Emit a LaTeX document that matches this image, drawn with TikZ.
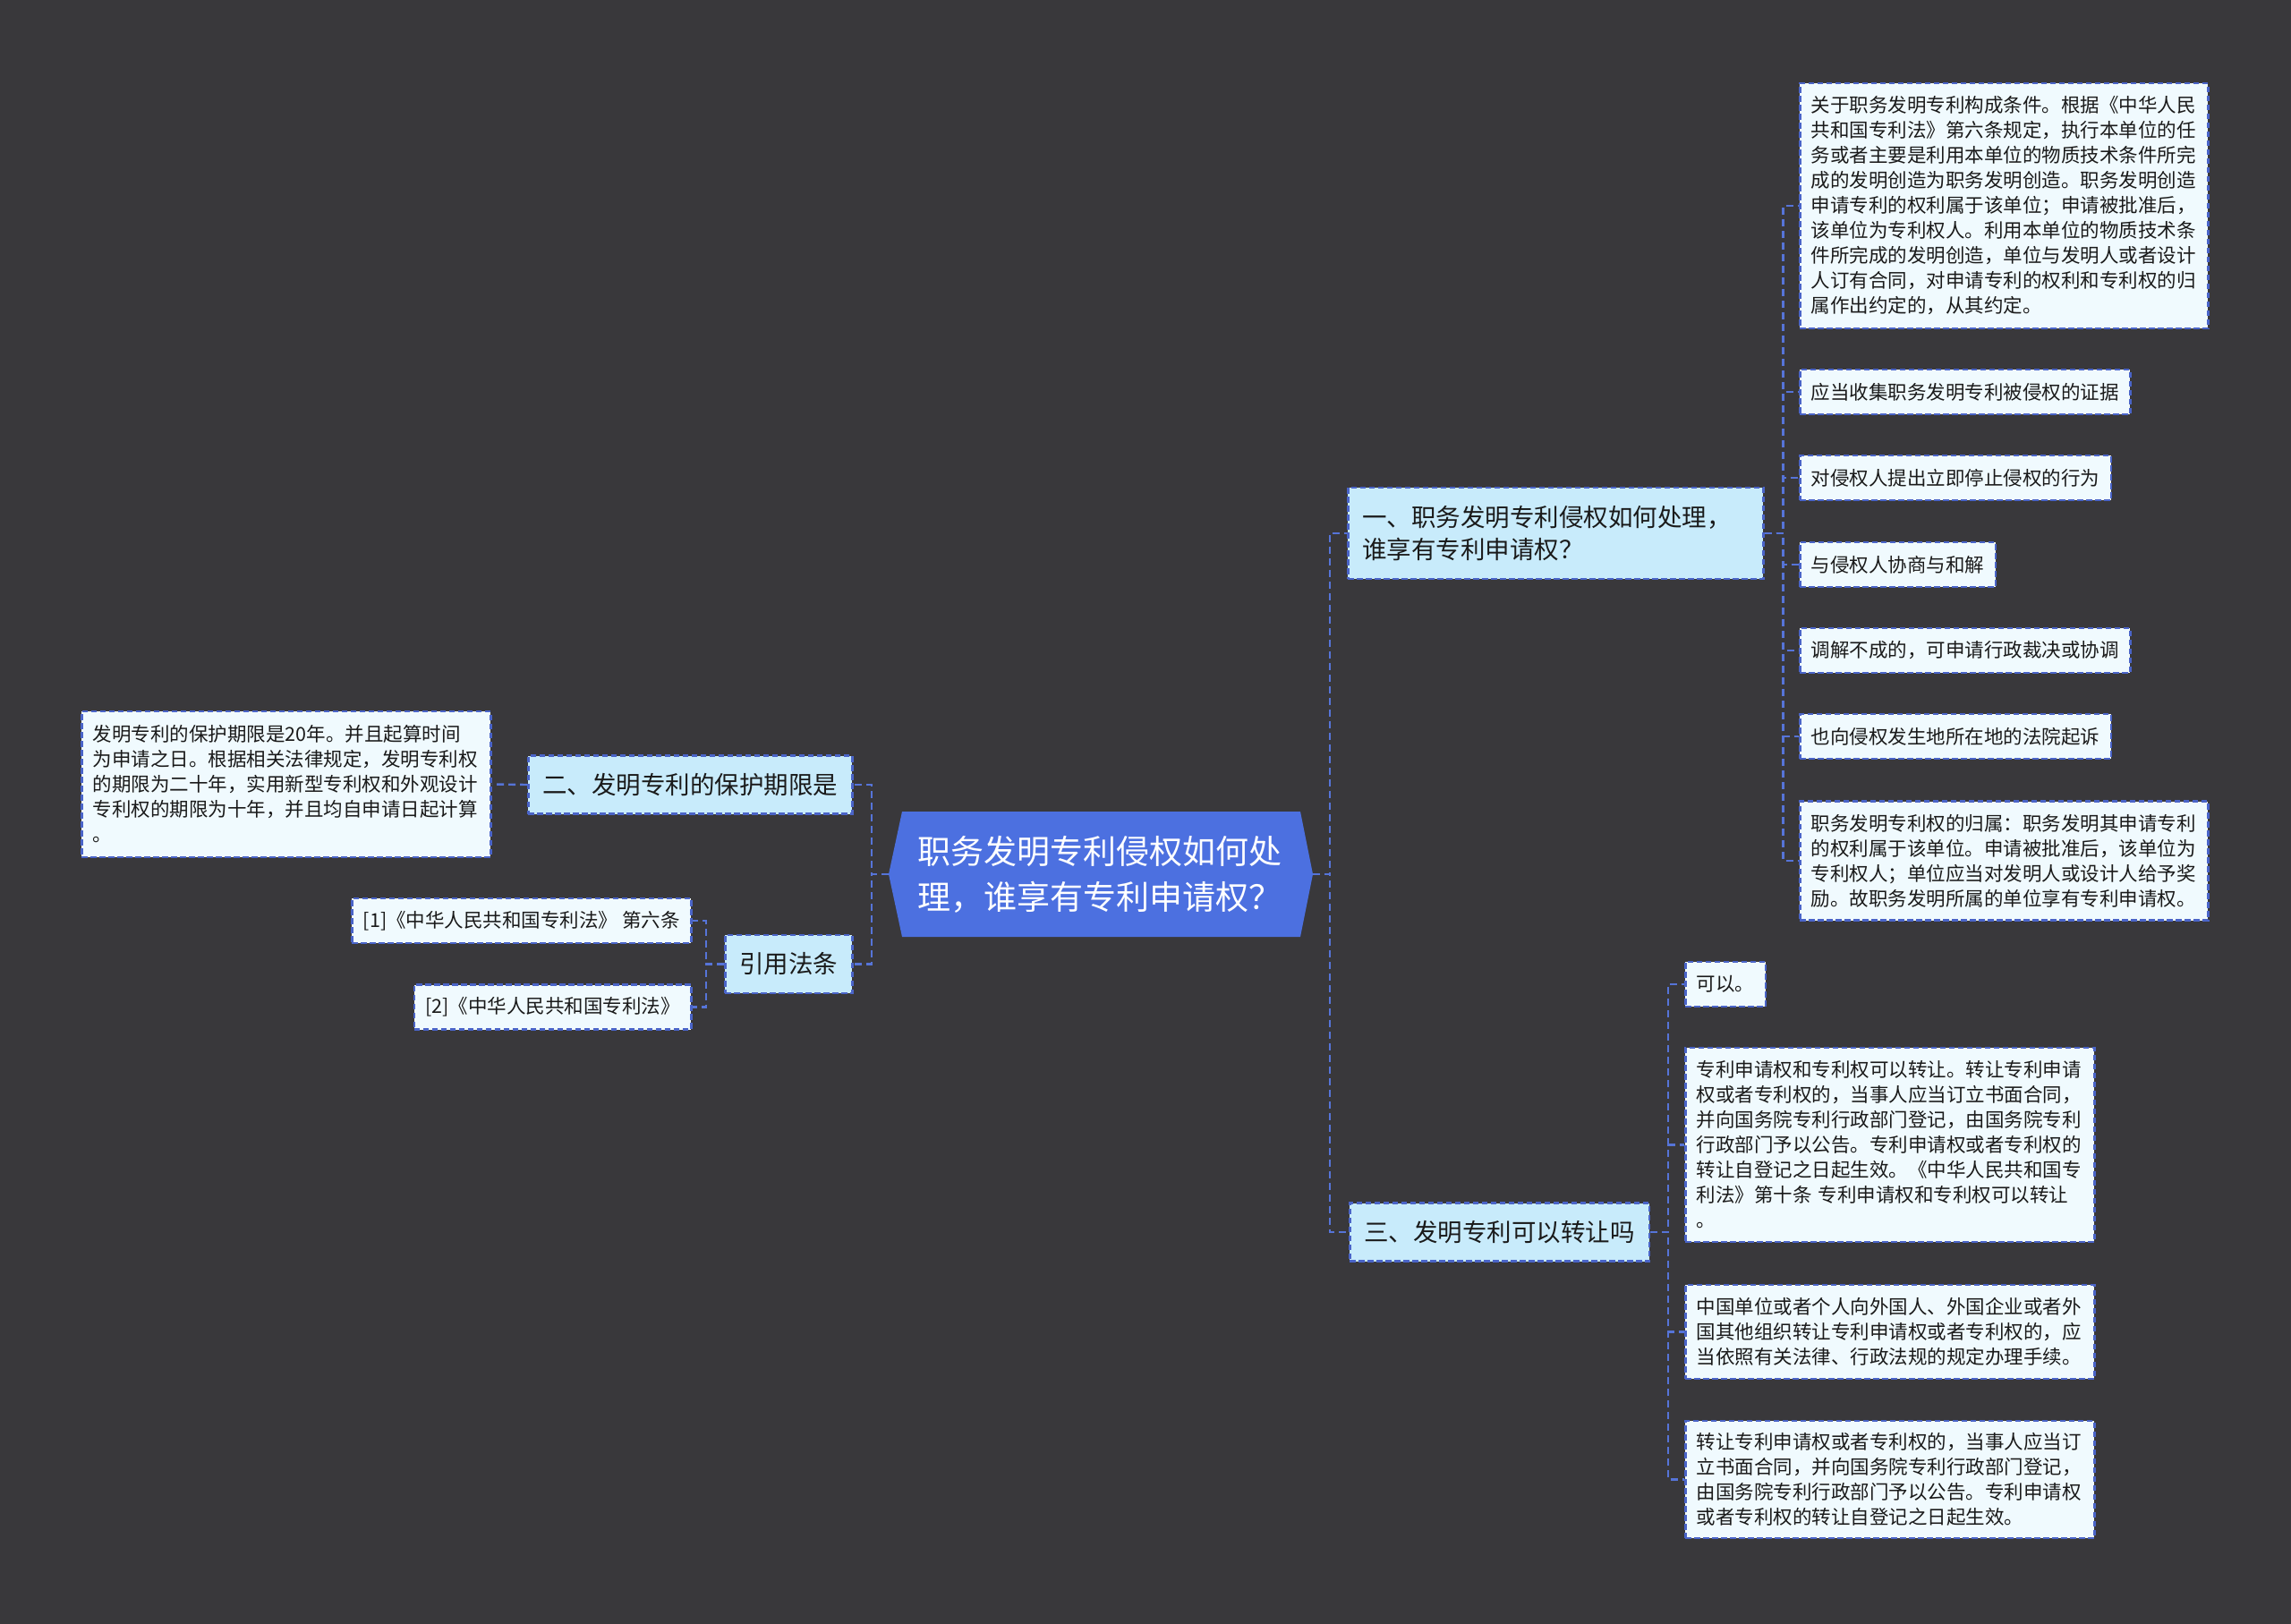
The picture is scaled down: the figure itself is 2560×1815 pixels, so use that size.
\documentclass[tikz,border=0pt]{standalone}
\usepackage{fontspec}
\setmainfont{Noto Sans CJK SC}
\definecolor{bgc}{HTML}{39383B}
\definecolor{cfill}{HTML}{4C70E0}
\definecolor{lvlf}{HTML}{C8EBFB}
\definecolor{leaff}{HTML}{F0FAFE}
\definecolor{linec}{HTML}{5674D8}
\definecolor{borderc}{HTML}{4A64C8}
\definecolor{textc}{HTML}{1A1A1A}
\begin{document}
\begin{tikzpicture}[x=1pt,y=-1pt,
  conn/.style={draw=linec, line width=2.4pt, dash pattern=on 8pt off 5pt},
  boxbase/.style={draw=borderc, line width=2.5pt, dash pattern=on 6.5pt off 3.5pt, text=textc, inner ysep=0pt, align=left},
  leaf/.style={boxbase, fill=leaff, font=\fontsize{21.5}{28}\selectfont, inner xsep=12.5pt, minimum height=50pt},
  lvl/.style={boxbase, fill=lvlf, font=\fontsize{27.5}{35.7}\selectfont, inner xsep=16pt, minimum height=65pt},
  hub/.style={minimum width=474pt, minimum height=140pt, inner sep=0pt, text=white, font=\fontsize{37}{51}\selectfont, align=left, text width=409pt}
]
\fill[bgc] (0,0) rectangle (2560,1815);
\useasboundingbox (0,0) rectangle (2560,1815);

% central topic
\fill[cfill] (1008,907) -- (1453,907) -- (1467,977) -- (1453,1047) -- (1008,1047) -- (993,977) -- cycle;
\node[hub] (c) at (1230,977) {职务发明专利侵权如何处\\理，谁享有专利申请权？};

% level 1
\node[lvl, anchor=west, text width=432pt, minimum height=102pt] (n1) at (1505,596) {一、职务发明专利侵权如何处理，\\谁享有专利申请权？};
\node[lvl, anchor=west] (n3) at (1507,1377) {三、发明专利可以转让吗};
\node[lvl, anchor=east] (n2) at (953.7,877) {二、发明专利的保护期限是};
\node[lvl, anchor=east] (n4) at (953.7,1077.5) {引用法条};

% leaves of n1
\node[leaf, anchor=west, text width=431pt, minimum height=274pt] (l1) at (2010,230) {关于职务发明专利构成条件。根据《中华人民\\共和国专利法》第六条规定，执行本单位的任\\务或者主要是利用本单位的物质技术条件所完\\成的发明创造为职务发明创造。职务发明创造\\申请专利的权利属于该单位；申请被批准后，\\该单位为专利权人。利用本单位的物质技术条\\件所完成的发明创造，单位与发明人或者设计\\人订有合同，对申请专利的权利和专利权的归\\属作出约定的，从其约定。};
\node[leaf, anchor=west] (l2) at (2010,438) {应当收集职务发明专利被侵权的证据};
\node[leaf, anchor=west] (l3) at (2010,534) {对侵权人提出立即停止侵权的行为};
\node[leaf, anchor=west] (l4) at (2010,631) {与侵权人协商与和解};
\node[leaf, anchor=west] (l5) at (2010,727) {调解不成的，可申请行政裁决或协调};
\node[leaf, anchor=west] (l6) at (2010,823) {也向侵权发生地所在地的法院起诉};
\node[leaf, anchor=west, text width=431pt, minimum height=133pt] (l7) at (2010,962) {职务发明专利权的归属：职务发明其申请专利\\的权利属于该单位。申请被批准后，该单位为\\专利权人；单位应当对发明人或设计人给予奖\\励。故职务发明所属的单位享有专利申请权。};

% leaves of n3
\node[leaf, anchor=west] (k1) at (1882,1100) {可以。};
\node[leaf, anchor=west, text width=432pt, minimum height=217pt] (k2) at (1882,1279.5) {专利申请权和专利权可以转让。转让专利申请\\权或者专利权的，当事人应当订立书面合同，\\并向国务院专利行政部门登记，由国务院专利\\行政部门予以公告。专利申请权或者专利权的\\转让自登记之日起生效。《中华人民共和国专\\利法》第十条 专利申请权和专利权可以转让\\。};
\node[leaf, anchor=west, text width=432pt, minimum height=105pt] (k3) at (1882,1488.5) {中国单位或者个人向外国人、外国企业或者外\\国其他组织转让专利申请权或者专利权的，应\\当依照有关法律、行政法规的规定办理手续。};
\node[leaf, anchor=west, text width=432pt, minimum height=131pt] (k4) at (1882,1653.5) {转让专利申请权或者专利权的，当事人应当订\\立书面合同，并向国务院专利行政部门登记，\\由国务院专利行政部门予以公告。专利申请权\\或者专利权的转让自登记之日起生效。};

% leaves of n2 and n4
\node[leaf, anchor=east, text width=432pt, minimum height=163pt] (lb) at (549.6,876.5) {发明专利的保护期限是20年。并且起算时间\\为申请之日。根据相关法律规定，发明专利权\\的期限为二十年，实用新型专利权和外观设计\\专利权的期限为十年，并且均自申请日起计算\\。};
\node[leaf, anchor=east] (r1) at (773.5,1029) {[1]《中华人民共和国专利法》 第六条};
\node[leaf, anchor=east] (r2) at (773.5,1125.5) {[2]《中华人民共和国专利法》};

% connectors
\draw[conn] (c.east) -- ++(19,0) |- (n1.west);
\draw[conn] (c.east) -- ++(19,0) |- (n3.west);
\draw[conn] (c.west) -- ++(-19,0) |- (n2.east);
\draw[conn] (c.west) -- ++(-19,0) |- (n4.east);
\foreach \t in {l1,l2,l3,l4,l5,l6,l7} \draw[conn] (n1.east) -- ++(21,0) |- (\t.west);
\foreach \t in {k1,k2,k3,k4} \draw[conn] (n3.east) -- ++(20,0) |- (\t.west);
\draw[conn] (n2.west) -- (lb.east);
\foreach \t in {r1,r2} \draw[conn] (n4.west) -- ++(-20,0) |- (\t.east);
\end{tikzpicture}
\end{document}
